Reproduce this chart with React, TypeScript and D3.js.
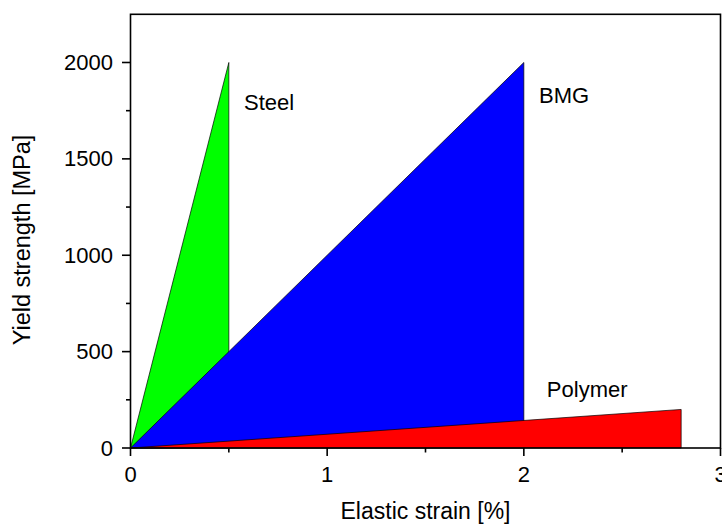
import React from "react";
import * as d3 from "d3";

const steel: [number, number][] = [[0, 0], [0.5, 2000], [0.5, 0]];
const bmg: [number, number][] = [[0, 0], [2, 2000], [2, 0]];
const polymer: [number, number][] = [[0, 0], [2.8, 200], [2.8, 0]];
const seriesColors = ["#00ff00", "#0000ff", "#ff0000"];
const labels = [
  { text: "Steel", x: 0.577, y: 1751 },
  { text: "BMG", x: 2.077, y: 1788 },
  { text: "Polymer", x: 2.117, y: 264 },
];
const xMajor = [0, 1, 2, 3];
const xMinor = [0.5, 1.5, 2.5];
const yMajor = [0, 500, 1000, 1500, 2000];
const yMinor = [250, 750, 1250, 1750];

const W = 722, H = 524;
const FONT = "'Liberation Sans', Arial, sans-serif";

export default function App() {
  const x = d3.scaleLinear().domain([0, 3]).range([130.5, 720.5]);
  const y = d3.scaleLinear().domain([0, 2250]).range([448, 14.3]);
  const line = d3.line<[number, number]>().x(d => x(d[0])).y(d => y(d[1]));
  const series = [steel, bmg, polymer];
  const x0 = x(0), x1 = x(3), y0 = y(0), y1 = y(2250);
  return (
    <svg width={W} height={H} style={{ position: "absolute", left: 0, top: 0 }} fontFamily={FONT}>
      <rect width={W} height={H} fill="#fff" />
      {series.map((s, i) => (
        <path key={i} d={line(s) + "Z"} fill={seriesColors[i]} stroke="#000" strokeWidth={0.7} strokeLinejoin="miter" />
      ))}
      <rect x={x0} y={y1} width={x1 - x0} height={y0 - y1} fill="none" stroke="#000" strokeWidth={1.6} />
      {xMajor.map(v => (
        <g key={"xm" + v}>
          <line x1={x(v)} x2={x(v)} y1={y0} y2={y0 + 8} stroke="#000" strokeWidth={1.6} />
          <text x={x(v)} y={482} textAnchor="middle" fontSize={22} fill="#000">{v}</text>
        </g>
      ))}
      {xMinor.map(v => (
        <line key={"xn" + v} x1={x(v)} x2={x(v)} y1={y0} y2={y0 + 4.5} stroke="#000" strokeWidth={1.6} />
      ))}
      {yMajor.map(v => (
        <g key={"ym" + v}>
          <line x1={x0} x2={x0 - 8.5} y1={y(v)} y2={y(v)} stroke="#000" strokeWidth={1.6} />
          <text x={113} y={y(v) + 7.5} textAnchor="end" fontSize={22} fill="#000">{v}</text>
        </g>
      ))}
      {yMinor.map(v => (
        <line key={"yn" + v} x1={x0} x2={x0 - 4.5} y1={y(v)} y2={y(v)} stroke="#000" strokeWidth={1.6} />
      ))}
      {labels.map(l => (
        <text key={l.text} x={x(l.x)} y={y(l.y)} fontSize={22} fill="#000">{l.text}</text>
      ))}
      <text x={425.5} y={519} textAnchor="middle" fontSize={23} fill="#000">Elastic strain [%]</text>
      <text transform="translate(30,240) rotate(-90)" textAnchor="middle" fontSize={23.5} fill="#000">Yield strength [MPa]</text>
    </svg>
  );
}
